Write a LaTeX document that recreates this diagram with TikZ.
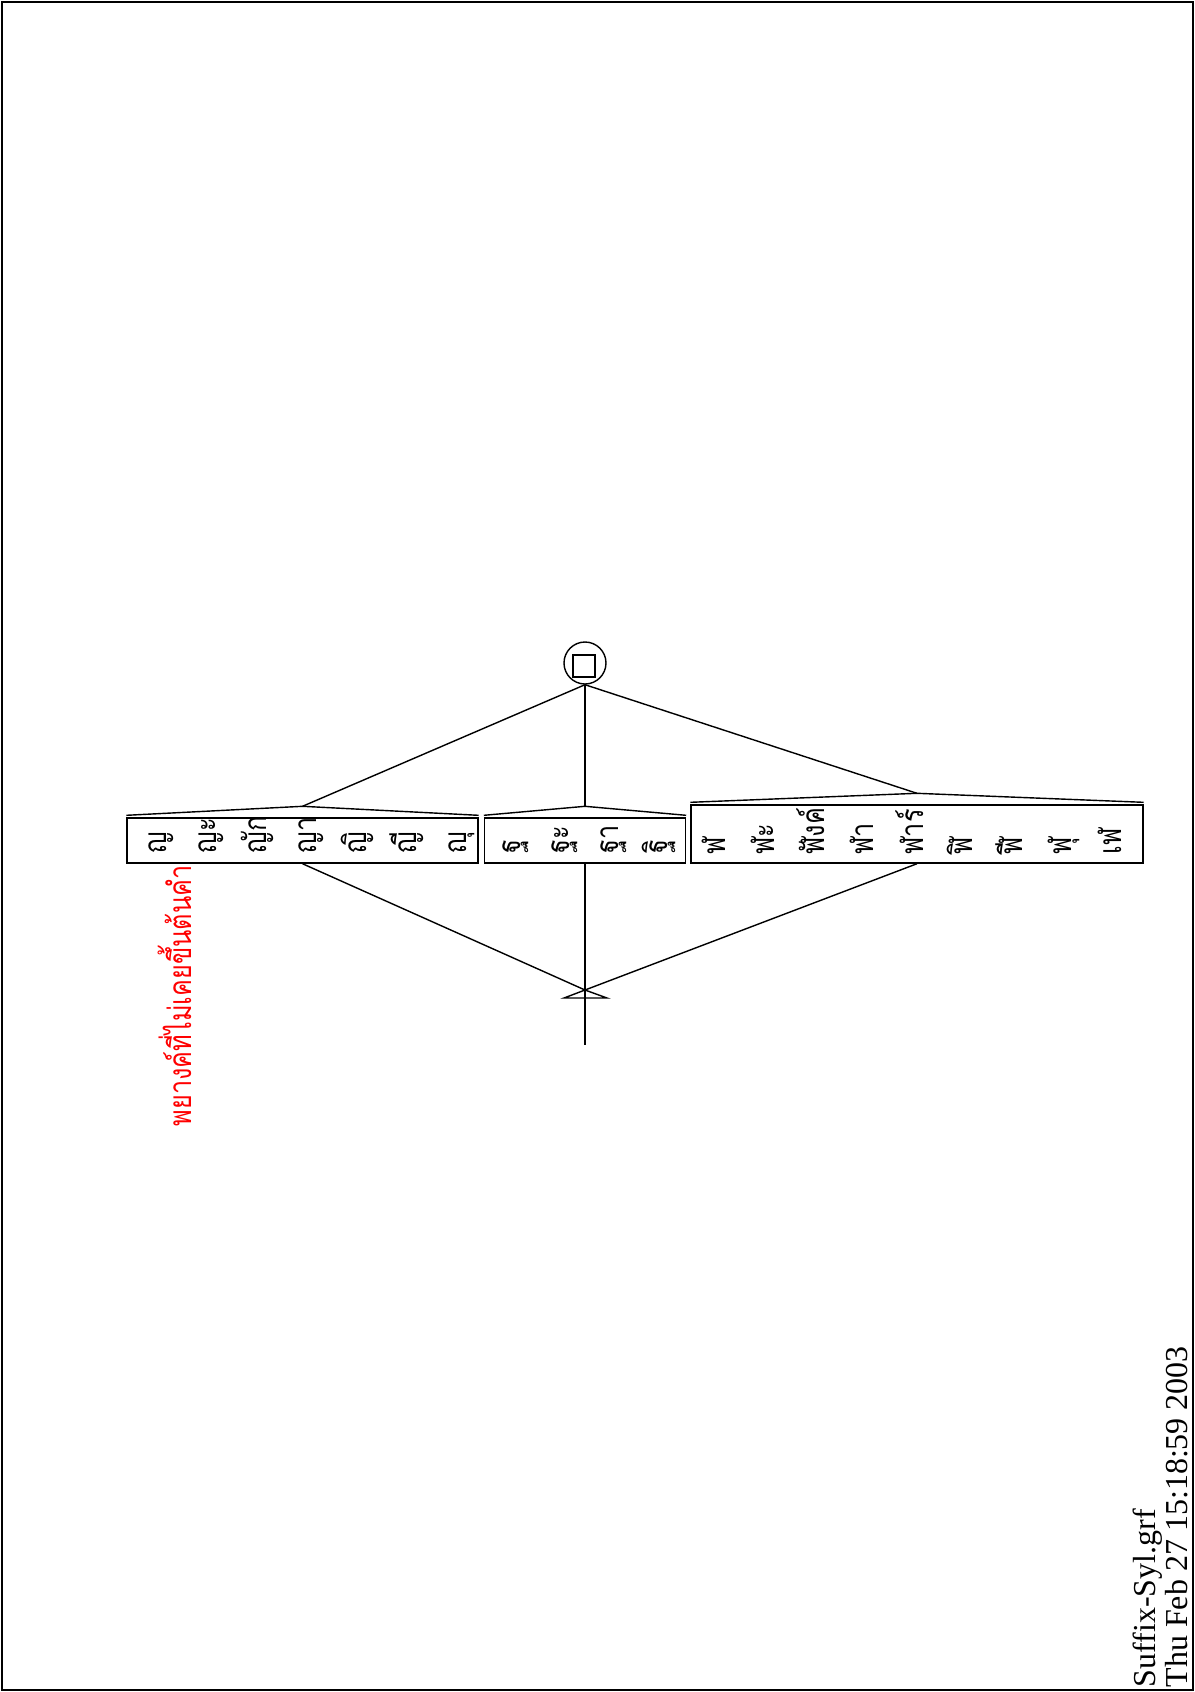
\documentclass[tikz,border=0pt]{standalone}
\usepackage{fontspec}
\setmainfont{Liberation Serif}
\newfontfamily\thaifont[Script=Thai,FakeStretch=0.8]{Loma}
\usetikzlibrary{calc,positioning}
\tikzset{
  grfbox/.style={draw, rectangle, inner sep=0pt},
  entry/.style={rotate=90, anchor=base west, inner sep=0pt, font=\thaifont\fontsize{9}{11}\selectfont},
  note/.style={entry, text=red},
  stamp/.style={rotate=90, anchor=base west, inner sep=0pt, font=\fontsize{9.1}{11}\selectfont},
}
\begin{document}
\begin{tikzpicture}[x=0.1mm, y=-0.1mm, line width=0.4pt]
  \useasboundingbox (0,0) rectangle (1195,1692);
  % page frame
  \draw[line width=0.7pt] (2,2) rectangle (1193,1690);
  % final state
  \node[draw, circle, minimum size=4.2mm, inner sep=0pt] (final) at (585,663) {};
  \node[draw, minimum size=2.2mm, inner sep=0pt] (finalsq) at (584,666) {};
  % initial state
  \coordinate (init) at (585,990);
  \coordinate (initL) at (564,998);
  \coordinate (initR) at (607,998);
  \coordinate (stem) at (585,1045);
  \draw (init) -- (initL) -- (initR) -- cycle;
  \draw (init) -- (stem);
  % boxes
  \node[grfbox, minimum width=35.1mm, minimum height=4.5mm] (boxA) at (302.5,840.5) {};
  \node[grfbox, minimum width=20.1mm, minimum height=4.5mm] (boxB) at (585,840.5) {};
  \node[grfbox, minimum width=45.2mm, minimum height=5.8mm] (boxC) at (917,834) {};
  \foreach \b in {boxA,boxB,boxC}{
    \coordinate (\b-top) at ($(\b.north)+(0,-11)$);
    \draw ($(\b.north west)+(0,-2)$) -- (\b-top) -- ($(\b.north east)+(0,-2)$);
  }
  % box contents
  \foreach \t [count=\i] in {ญ,ญะ,ญัก,ญา,ญิ,ญี,ญุ}
    \node[entry] (a\i) at (116+50*\i,854) {\t};
  \foreach \t [count=\i] in {ฐ,ฐะ,ฐา,ฐิ}
    \node[entry] (b\i) at (471+49*\i,854) {\t};
  \foreach \t [count=\i] in {ฬ,ฬะ,ฬังค์,ฬา,ฬาร์,ฬิ,ฬี,ฬุ,เฬ}
    \node[entry] (c\i) at (675.5+49.5*\i,855) {\t};
  % transitions
  \draw (final.south) -- (boxA-top);
  \draw (final.south) -- (boxB-top);
  \draw (final.south) -- (boxC-top);
  \draw (init) -- (boxA.south);
  \draw (init) -- (boxB.south);
  \draw (init) -- (boxC.south);
  % comment
  \node[note] (note) at (192,1127) {พยางค์ที่ไม่เคยขึ้นต้นคำ};
  % file stamp
  \node[stamp] (fname) at (1155,1688) {Suffix-Syl.grf};
  \node[stamp] (fdate) at (1187,1688) {Thu Feb 27 15:18:59 2003};
\end{tikzpicture}
\end{document}
